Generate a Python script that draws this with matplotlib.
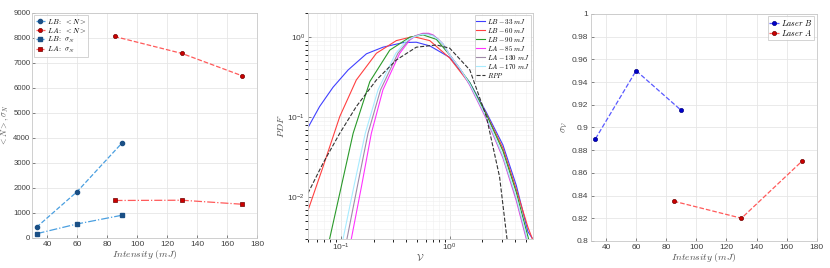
import numpy as np
import matplotlib.pyplot as plt

plt.rcParams['font.family'] = ['Liberation Sans', 'DejaVu Sans']
plt.rcParams['mathtext.fontset'] = 'cm'
plt.rcParams['font.size'] = 6

# panel 1: mean and std of N vs intensity
lb_int = [33, 60, 90]
la_int = [85, 130, 170]
lb_mean = [430, 1850, 3800]
la_mean = [8060, 7380, 6490]
lb_std = [170, 560, 910]
la_std = [1500, 1510, 1350]

# panel 3: sigma_V vs intensity
lb_sigv = [0.89, 0.95, 0.915]
la_sigv = [0.835, 0.82, 0.87]

# panel 2: PDF curves
pdf_curves = [
    ('$LB - 33\\ mJ$', '#4040ff',
     [0.05, 0.064, 0.085, 0.117, 0.172, 0.244, 0.373, 0.494, 0.656, 1.0, 1.53, 2.17, 3.08, 4.09, 5.23, 5.7],
     [0.074, 0.136, 0.237, 0.39, 0.62, 0.75, 0.856, 0.866, 0.78, 0.56, 0.27, 0.115, 0.045, 0.014, 0.0037, 0.0031]),
    ('$LB - 60\\ mJ$', '#ff4040',
     [0.05, 0.0688, 0.098, 0.139, 0.2125, 0.324, 0.461, 0.656, 1.0, 1.53, 2.17, 3.08, 4.09, 5.23, 5.75],
     [0.0068, 0.024, 0.102, 0.292, 0.63, 0.907, 1.02, 0.907, 0.55, 0.26, 0.11, 0.041, 0.0125, 0.0042, 0.003]),
    ('$LB - 90\\ mJ$', '#2a9a2a',
     [0.079, 0.098, 0.13, 0.185, 0.282, 0.43, 0.569, 0.755, 1.0, 1.53, 2.17, 3.08, 4.09, 5.3],
     [0.003, 0.0112, 0.063, 0.279, 0.69, 1.0, 1.07, 0.94, 0.6, 0.27, 0.108, 0.038, 0.0115, 0.003]),
    ('$LA - 85\\ mJ$', '#ff33ff',
     [0.125, 0.155, 0.191, 0.244, 0.348, 0.43, 0.494, 0.569, 0.64, 0.703, 0.78, 0.869, 1.0, 1.25, 1.53, 2.17, 3.08, 4.09, 5.05],
     [0.003, 0.0136, 0.063, 0.22, 0.63, 0.92, 1.05, 1.12, 1.12, 1.07, 0.95, 0.82, 0.6, 0.4, 0.25, 0.095, 0.031, 0.009, 0.003]),
    ('$LA - 130\\ mJ$', '#a08aa8',
     [0.114, 0.142, 0.178, 0.232, 0.335, 0.42, 0.48, 0.56, 0.63, 0.7, 0.78, 0.869, 1.0, 1.25, 1.53, 2.17, 3.08, 4.09, 5.1],
     [0.003, 0.0136, 0.063, 0.22, 0.63, 0.92, 1.04, 1.1, 1.1, 1.06, 0.95, 0.82, 0.6, 0.4, 0.255, 0.098, 0.032, 0.0095, 0.003]),
    ('$LA - 170\\ mJ$', '#a8ecff',
     [0.105, 0.132, 0.168, 0.22, 0.32, 0.4, 0.46, 0.55, 0.62, 0.7, 0.78, 0.869, 1.0, 1.25, 1.53, 2.17, 3.08, 4.09, 5.15],
     [0.003, 0.0136, 0.063, 0.22, 0.63, 0.9, 1.0, 1.08, 1.08, 1.04, 0.94, 0.82, 0.6, 0.4, 0.26, 0.1, 0.033, 0.01, 0.003]),
]
rpp_x = [0.05, 0.0688, 0.098, 0.139, 0.2125, 0.324, 0.494, 0.755, 1.0, 1.53, 2.17, 2.87, 3.36]
rpp_y = [0.0112, 0.0266, 0.063, 0.136, 0.292, 0.52, 0.75, 0.8, 0.73, 0.39, 0.102, 0.018, 0.003]

fig = plt.figure(figsize=(8.3, 2.68), dpi=100)
ax1 = fig.add_axes([0.0386, 0.112, 0.271, 0.8396])
ax2 = fig.add_axes([0.371, 0.108, 0.271, 0.843])
ax3 = fig.add_axes([0.712, 0.101, 0.272, 0.847])


def style(ax):
    for s in ax.spines.values():
        s.set_color('#c8c8c8')
        s.set_linewidth(0.6)
    ax.tick_params(direction='in', length=2, width=0.5, color='#555555',
                   labelcolor='#404040', labelsize=6, pad=2)
    ax.grid(True, color='#e6e6e6', linewidth=0.6)
    ax.set_axisbelow(True)


def leg(ax, loc, fs=5.3):
    l = ax.legend(loc=loc, fontsize=fs, frameon=True, fancybox=False,
                  borderpad=0.2, labelspacing=0.0, handlelength=1.2,
                  handletextpad=0.3, borderaxespad=0.3)
    l.get_frame().set_edgecolor('#c0c0c0')
    l.get_frame().set_linewidth(0.6)


# panel 1
style(ax1)
ax1.tick_params(axis='y', pad=1.2, labelsize=5.6)
ax1.plot(lb_int, lb_mean, '--', color='#4a9fe0', lw=0.9, marker='o', ms=3.0,
         mfc='#1a4f85', mec='#1a4f85', label='$LB:\\ <N>$')
ax1.plot(la_int, la_mean, '--', color='#ff5a5a', lw=0.9, marker='o', ms=3.0,
         mfc='#cc0000', mec='#700000', mew=0.5, label='$LA:\\ <N>$')
ax1.plot(lb_int, lb_std, '-.', color='#4a9fe0', lw=0.9, marker='s', ms=2.6,
         mfc='#1a4f85', mec='#1a4f85', label='$LB:\\ \\sigma_N$')
ax1.plot(la_int, la_std, '-.', color='#ff5a5a', lw=0.9, marker='s', ms=2.6,
         mfc='#cc0000', mec='#700000', mew=0.5, label='$LA:\\ \\sigma_N$')
ax1.set_xlim(30, 180)
ax1.set_ylim(0, 9000)
ax1.set_xticks(range(40, 181, 20))
ax1.set_yticks(range(0, 9001, 1000))
ax1.set_xlabel('$Intensity\\ (mJ)$', fontsize=7, color='#505050', labelpad=0)
ax1.set_ylabel('$<N>, \\sigma_N$', fontsize=6, color='#505050')
ax1.yaxis.set_label_coords(-0.093, 0.5)
leg(ax1, 'upper left')

# panel 2
style(ax2)
ax2.grid(True, which='minor', color='#f0f0f0', linewidth=0.4)
for lab, col, xs, ys in pdf_curves:
    ax2.plot(xs, ys, '-', color=col, lw=0.8, label=lab)
ax2.plot(rpp_x, rpp_y, '--', color='#333333', lw=0.8, label='$RPP$')
ax2.set_xscale('log')
ax2.set_yscale('log')
ax2.set_xlim(0.05, 5.8)
ax2.set_ylim(0.003, 2)
ax2.set_xlabel('$\\mathcal{V}$', fontsize=7, color='#505050', labelpad=0)
ax2.set_ylabel('$PDF$', fontsize=7, color='#505050', labelpad=1)
leg(ax2, 'upper right', 5.0)

# panel 3
style(ax3)
ax3.plot(lb_int, lb_sigv, '--', color='#5a5aff', lw=0.9, marker='o', ms=3.0,
         mfc='#0000cc', mec='#000080', mew=0.5, label='$Laser\\ B$')
ax3.plot(la_int, la_sigv, '--', color='#ff5a5a', lw=0.9, marker='o', ms=3.0,
         mfc='#cc0000', mec='#700000', mew=0.5, label='$Laser\\ A$')
ax3.set_xlim(30, 180)
ax3.set_ylim(0.8, 1.0)
ax3.set_xticks(range(40, 181, 20))
ax3.set_yticks(np.arange(0.8, 1.001, 0.02))
ax3.set_yticklabels(['0.8', '0.82', '0.84', '0.86', '0.88', '0.9', '0.92',
                     '0.94', '0.96', '0.98', '1'])
ax3.set_xlabel('$Intensity\\ (mJ)$', fontsize=7, color='#505050', labelpad=0)
ax3.set_ylabel('$\\sigma_{\\mathcal{V}}$', fontsize=7, color='#505050', labelpad=1)
leg(ax3, 'upper right', 5.8)

fig.savefig('out.png', dpi=100)
